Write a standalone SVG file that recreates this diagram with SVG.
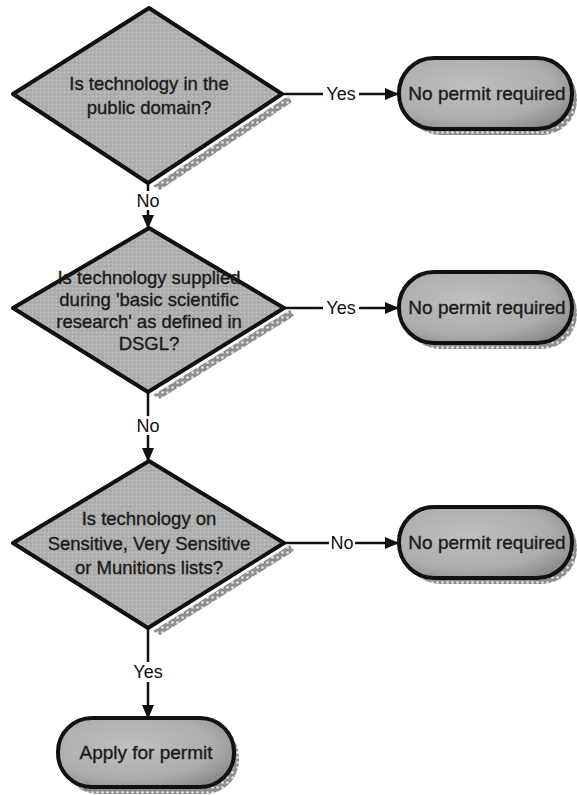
<svg xmlns="http://www.w3.org/2000/svg" width="577" height="795" viewBox="0 0 577 795">
<style>
.shape{fill:url(#grain);stroke:#111;stroke-width:4;stroke-linejoin:round}
.term{fill:url(#tgrad);stroke:#111;stroke-width:4}
.shadow{fill:url(#dots)}
.t{font-family:"Liberation Sans",Arial,sans-serif;font-size:18.5px;fill:#1a1a1a;stroke:#1a1a1a;stroke-width:0.35;text-anchor:middle}
.tt{font-size:19px}
.lbl{font-family:"Liberation Sans",Arial,sans-serif;font-size:18px;fill:#111;text-anchor:middle}
.lbg{fill:#fff}
.c{stroke:#111;stroke-width:2.5;fill:none}
</style>
<defs>
<pattern id="dots" width="5" height="5" patternUnits="userSpaceOnUse">
<rect width="5" height="5" fill="#8e8e8e"/>
<circle cx="2.5" cy="2.5" r="1.3" fill="#e8e8e8"/>
</pattern>
<pattern id="grain" width="4" height="4" patternUnits="userSpaceOnUse">
<rect width="4" height="4" fill="#b0b0b0"/>
<rect x="0" y="0" width="1" height="1" fill="#c8c8c8"/>
<rect x="2" y="2" width="1" height="1" fill="#989898"/>
</pattern>
<radialGradient id="tgrad" cx="0.4" cy="0.4" r="0.7">
<stop offset="0" stop-color="#c0c0c0"/>
<stop offset="0.7" stop-color="#acacac"/>
<stop offset="1" stop-color="#8a8a8a"/>
</radialGradient>
<marker id="arr" markerWidth="14" markerHeight="12" refX="13" refY="6" orient="auto" markerUnits="userSpaceOnUse">
<path d="M0,0 L14,6 L0,12 Z" fill="#111"/>
</marker>
</defs>

<g id="connectors">
<line class="c" x1="283" y1="94" x2="398" y2="94" marker-end="url(#arr)"/>
<rect class="lbg" x="323" y="84" width="36" height="20"/>
<text class="lbl" x="341" y="100">Yes</text>

<line class="c" x1="148" y1="183" x2="148" y2="228" marker-end="url(#arr)"/>
<rect class="lbg" x="135" y="191" width="26" height="19"/>
<text class="lbl" x="148" y="207">No</text>

<line class="c" x1="284" y1="308" x2="398" y2="308" marker-end="url(#arr)"/>
<rect class="lbg" x="323" y="298" width="36" height="20"/>
<text class="lbl" x="341" y="314">Yes</text>

<line class="c" x1="148" y1="392" x2="148" y2="461" marker-end="url(#arr)"/>
<rect class="lbg" x="135" y="416" width="26" height="19"/>
<text class="lbl" x="148" y="432">No</text>

<line class="c" x1="284" y1="543" x2="398" y2="543" marker-end="url(#arr)"/>
<rect class="lbg" x="329" y="533" width="26" height="20"/>
<text class="lbl" x="342" y="549">No</text>

<line class="c" x1="148" y1="628" x2="148" y2="718" marker-end="url(#arr)"/>
<rect class="lbg" x="130" y="662" width="36" height="20"/>
<text class="lbl" x="148" y="678">Yes</text>
</g>

<g id="q1">
<polygon class="shadow" points="288,96 153,186 160,190 292,102"/>
<polygon class="shape" points="149,8 282,94 148,183 13,94"/>
<text class="t" x="149" y="90">Is technology in the</text>
<text class="t" x="149" y="114">public domain?</text>
</g>

<g id="q2">
<polygon class="shadow" points="290,310 153,395 160,399 294,316"/>
<polygon class="shape" points="149,228 284,308 148,392 13,308"/>
<text class="t" x="149" y="284">Is technology supplied</text>
<text class="t" x="149" y="306">during 'basic scientific</text>
<text class="t" x="149" y="328">research' as defined in</text>
<text class="t" x="149" y="350">DSGL?</text>
</g>

<g id="q3">
<polygon class="shadow" points="290,545 153,631 160,635 294,551"/>
<polygon class="shape" points="149,461 284,543 148,628 13,543"/>
<text class="t" x="149" y="525">Is technology on</text>
<text class="t" x="149" y="550">Sensitive, Very Sensitive</text>
<text class="t" x="149" y="574">or Munitions lists?</text>
</g>

<g id="t1">
<rect class="shadow" x="405" y="64" width="172" height="71" rx="35"/>
<rect class="term" x="399" y="58" width="173" height="71" rx="35"/>
<text class="t tt" x="487" y="100">No permit required</text>
</g>

<g id="t2">
<rect class="shadow" x="405" y="278" width="172" height="71" rx="35"/>
<rect class="term" x="399" y="272" width="173" height="71" rx="35"/>
<text class="t tt" x="487" y="314">No permit required</text>
</g>

<g id="t3">
<rect class="shadow" x="405" y="513" width="172" height="71" rx="35"/>
<rect class="term" x="399" y="507" width="173" height="71" rx="35"/>
<text class="t tt" x="487" y="549">No permit required</text>
</g>

<g id="t4">
<rect class="shadow" x="64" y="724" width="175" height="70" rx="34"/>
<rect class="term" x="58" y="718" width="176" height="69" rx="34"/>
<text class="t tt" x="146" y="759">Apply for permit</text>
</g>
</svg>
